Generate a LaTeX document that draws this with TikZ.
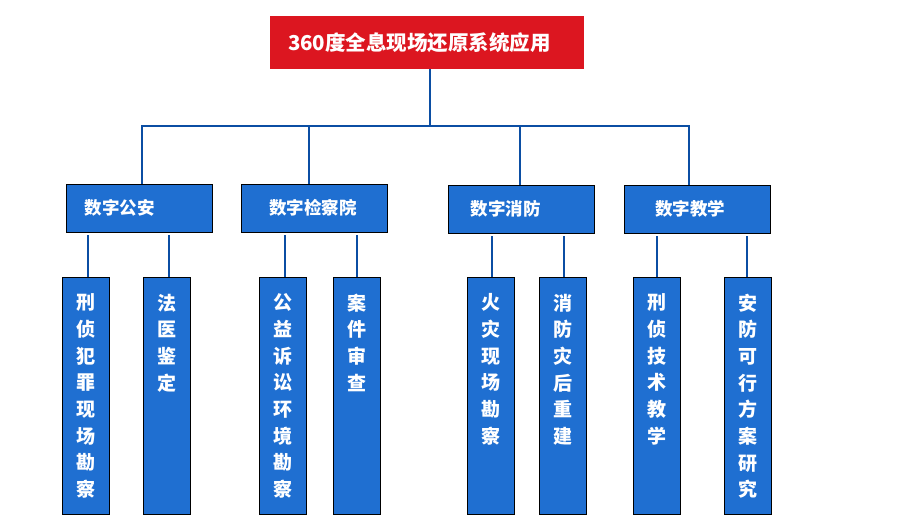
\documentclass[tikz,border=0pt]{standalone}
\usepackage{fontspec}
\setmainfont{Noto Sans CJK SC}
\usetikzlibrary{positioning}
\definecolor{titlered}{RGB}{220,22,32}
\definecolor{boxblue}{RGB}{31,111,209}
\definecolor{linkblue}{RGB}{11,78,163}
\tikzset{
  titlebox/.style={draw=none,fill=titlered,minimum width=314pt,minimum height=53pt,inner sep=0pt},
  titletext/.style={text=white,font=\fontsize{20.5}{24}\selectfont\bfseries,inner sep=0pt},
  groupbox/.style={draw=black,line width=0.9pt,fill=boxblue,minimum width=146pt,minimum height=48pt,inner sep=0pt},
  grouptext/.style={text=white,font=\fontsize{17.5}{20}\selectfont\bfseries,inner sep=0pt},
  itembox/.style={draw=black,line width=0.9pt,fill=boxblue,minimum width=47pt,minimum height=237pt,inner sep=0pt},
  itemtext/.style={text=white,font=\fontsize{19}{26.7}\selectfont\bfseries,align=center,inner sep=0pt},
  link/.style={draw=linkblue,line width=1.8pt}
}
\begin{document}
\begin{tikzpicture}[x=1pt,y=1pt]
    \useasboundingbox (0,0) rectangle (904,-522);
    % top
    \node[titlebox] (title) at (427,-42.5) {};
    \node[titletext,right=18pt of title.west] (titleT) {360度全息现场还原系统应用};
    % groups
    \node[groupbox] (ga) at (139,-208) {};
    \node[groupbox] (jc) at (314.5,-208) {};
    \node[groupbox] (xf) at (521,-209) {};
    \node[groupbox] (jx) at (697.5,-209) {};
    \node[grouptext,right=19pt of ga.west] (gaT) {数字公安};
    \node[grouptext,right=28pt of jc.west] (jcT) {数字检察院};
    \node[grouptext,right=23pt of xf.west] (xfT) {数字消防};
    \node[grouptext,right=31pt of jx.west] (jxT) {数字教学};
    % items
    \foreach \name/\x/\txt in {
        i1/85.5/{刑\\侦\\犯\\罪\\现\\场\\勘\\察},
        i2/167/{法\\医\\鉴\\定},
        i3/282.5/{公\\益\\诉\\讼\\环\\境\\勘\\察},
        i4/356.5/{案\\件\\审\\查},
        i5/491/{火\\灾\\现\\场\\勘\\察},
        i6/563/{消\\防\\灾\\后\\重\\建},
        i7/656.5/{刑\\侦\\技\\术\\教\\学},
        i8/748/{安\\防\\可\\行\\方\\案\\研\\究}}{
        \node[itembox] (\name) at (\x,-395.5) {};
        \node[itemtext,below=17pt of \name.north] (\name T) {\txt};
    }
    % links
    \coordinate (bus) at (430,-126);
    \draw[link] ([xshift=3pt]title.south) -- (bus);
    \draw[link] ([xshift=3pt]ga.north) |- (bus);
    \draw[link] ([xshift=-8.5pt]jx.north) |- (bus);
    \draw[link] ([xshift=-5.5pt]jc.north) -- ([xshift=-5.5pt]jc.north |- bus);
    \draw[link] ([xshift=-1pt]xf.north) -- ([xshift=-1pt]xf.north |- bus);
    \foreach \item/\grp/\dx in {i1/ga/2.5,i2/ga/2,i3/jc/2.5,i4/jc/0.5,i5/xf/1,i6/xf/1,i7/jx/0.5,i8/jx/-1}{
        \draw[link] ([xshift=\dx pt]\item.north) -- ([xshift=\dx pt,yshift=-3pt]\item.north |- \grp.south);
    }
\end{tikzpicture}
\end{document}
